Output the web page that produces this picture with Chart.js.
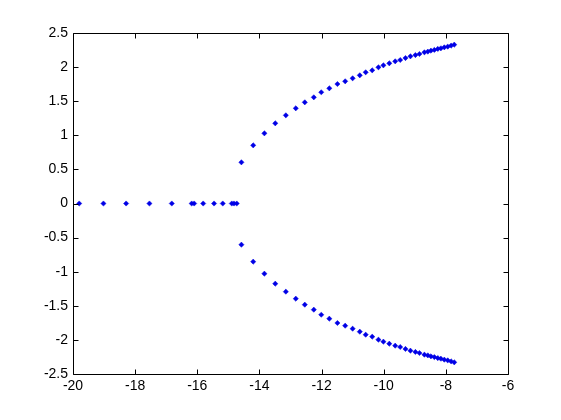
<!DOCTYPE html>
<html>
<head>
<meta charset="utf-8">
<script src="https://cdn.jsdelivr.net/npm/chart.js@4/dist/chart.umd.min.js"></script>
<style>
html,body{margin:0;padding:0;background:#fff;}
#c{display:block;}
</style>
</head>
<body>
<canvas id="c" width="561" height="420"></canvas>
<script>
// Real-axis points (imaginary part 0)
const realAxisRe = [-19.80,-19.02,-18.29,-17.54,-16.82,-16.18,-16.10,-15.81,-15.46,-15.18,-14.89,-14.82,-14.73];
// Complex branch: real parts and (positive) imaginary parts; lower branch is the conjugate
const branchRe = [-14.58,-14.20,-13.84,-13.49,-13.15,-12.83,-12.54,-12.25,-12.01,-11.75,-11.49,-11.24,-11.00,-10.77,-10.58,
  -10.37,-10.17,-10.01,-9.82,-9.63,-9.47,-9.30,-9.14,-8.98,-8.85,-8.69,-8.58,-8.48,-8.37,-8.26,-8.16,-8.05,-7.94,-7.83,-7.73];
const branchIm = [0.604,0.853,1.029,1.176,1.293,1.396,1.484,1.557,1.631,1.689,1.752,1.792,1.836,1.880,1.924,
  1.953,1.997,2.026,2.056,2.085,2.104,2.133,2.158,2.177,2.192,2.217,2.227,2.241,2.252,2.266,2.276,2.290,2.300,2.315,2.329];
const xTicks = [-20,-18,-16,-14,-12,-10,-8,-6];
const yTicks = [-2.5,-2,-1.5,-1,-0.5,0,0.5,1,1.5,2,2.5];

const col = '#0000e6';
const ptStyle = {pointStyle:'rectRot', pointRadius:2.6, pointBackgroundColor:col, pointBorderColor:col, pointBorderWidth:0.5, showLine:false};

const datasets = [
  Object.assign({data: realAxisRe.map(v => ({x:v, y:0}))}, ptStyle),
  Object.assign({data: branchRe.map((v,i) => ({x:v, y:branchIm[i]}))}, ptStyle),
  Object.assign({data: branchRe.map((v,i) => ({x:v, y:-branchIm[i]}))}, ptStyle)
];

const framePlugin = {
  id:'frame',
  afterDraw(chart){
    const ctx = chart.ctx, a = chart.chartArea;
    const xs = chart.scales.x, ys = chart.scales.y;
    ctx.save();
    ctx.strokeStyle = '#000';
    ctx.lineWidth = 1;
    ctx.beginPath();
    const L = Math.round(a.left)+0.5, R = Math.round(a.right)+0.5, T = Math.round(a.top)+0.5, B = Math.round(a.bottom)+0.5;
    ctx.rect(L, T, R-L, B-T);
    const tl = 5;
    xTicks.forEach(v => {
      const px = Math.round(xs.getPixelForValue(v))+0.5;
      ctx.moveTo(px, B); ctx.lineTo(px, B-tl);
      ctx.moveTo(px, T); ctx.lineTo(px, T+tl);
    });
    yTicks.forEach(v => {
      const py = Math.round(ys.getPixelForValue(v))+0.5;
      ctx.moveTo(L, py); ctx.lineTo(L+tl, py);
      ctx.moveTo(R, py); ctx.lineTo(R-tl, py);
    });
    ctx.stroke();
    ctx.restore();
  }
};

new Chart(document.getElementById('c'), {
  type:'scatter',
  data:{datasets},
  options:{
    responsive:false,
    devicePixelRatio:1,
    animation:false,
    layout:{padding:{top:33,right:53,left:0,bottom:0}},
    plugins:{legend:{display:false},tooltip:{enabled:false}},
    scales:{
      x:{
        type:'linear', min:-20, max:-6,
        afterBuildTicks(s){ s.ticks = xTicks.map(v=>({value:v})); },
        afterFit(s){ s.height = 46; },
        grid:{display:false, drawTicks:false},
        border:{display:false},
        ticks:{color:'#000', padding:4, maxRotation:0, autoSkip:false,
          font:{family:'"Liberation Sans", Arial, sans-serif', size:14},
          callback:v=>String(v)}
      },
      y:{
        type:'linear', min:-2.5, max:2.5,
        afterBuildTicks(s){ s.ticks = yTicks.map(v=>({value:v})); },
        afterFit(s){ s.width = 73; },
        grid:{display:false, drawTicks:false},
        border:{display:false},
        ticks:{color:'#000', padding:5, autoSkip:false,
          font:{family:'"Liberation Sans", Arial, sans-serif', size:14},
          callback:v=>String(v)}
      }
    }
  },
  plugins:[framePlugin]
});
</script>
</body>
</html>
